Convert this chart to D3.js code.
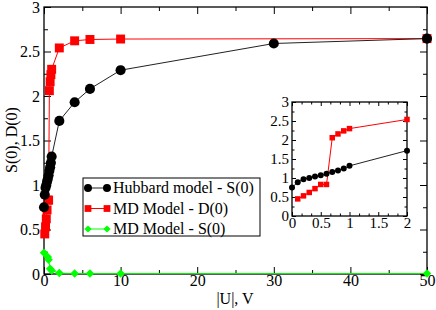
<!doctype html>
<html>
<head>
<script src="https://d3js.org/d3.v7.min.js"></script>
<style>
  body { margin: 0; background: #fff; }
  .domain { display: none; }
</style>
</head>
<body>
<svg id="chart" width="436" height="310"></svg>
<script>
// Hubbard model - S(0)
const hubU = [0, 0.1, 0.2, 0.3, 0.4, 0.5, 0.6, 0.7, 0.8, 0.9, 1, 2, 4, 6, 10, 30, 50];
const hubS = [0.75, 0.89, 0.97, 1.0, 1.04, 1.07, 1.11, 1.16, 1.2, 1.25, 1.32, 1.72, 1.93, 2.08, 2.29, 2.59, 2.645];
// MD Model - D(0)
const mdDU = [0.1, 0.2, 0.3, 0.4, 0.5, 0.6, 0.7, 0.8, 0.9, 1, 2, 4, 6, 10, 50];
const mdD  = [0.45, 0.53, 0.62, 0.72, 0.83, 0.83, 2.06, 2.16, 2.24, 2.3, 2.54, 2.62, 2.635, 2.64, 2.645];
// MD Model - S(0)
const mdSU = [0, 0.5, 0.6, 0.8, 1, 2, 4, 6, 10, 50];
const mdS  = [0.24, 0.19, 0.16, 0.06, 0.04, 0.01, 0.005, 0.005, 0.005, 0.005];

const legendLabels = ["Hubbard model - S(0)", "MD Model - D(0)", "MD Model - S(0)"];
const mainXTicks = [0, 10, 20, 30, 40, 50];
const mainYTicks = [0, 0.5, 1, 1.5, 2, 2.5, 3];
const insetXTicks = [0, 0.5, 1, 1.5, 2];
const insetYTicks = [0, 0.5, 1, 1.5, 2, 2.5, 3];

const serif = '"Liberation Serif", "Times New Roman", Times, serif';
const svg = d3.select("#chart");

function zip(xs, ys) { return xs.map((u, i) => ({u: u, v: ys[i]})); }
const hub = zip(hubU, hubS), mdd = zip(mdDU, mdD), mds = zip(mdSU, mdS);

function minorTicks(lo, hi, step, majors) {
  var out = [];
  for (var t = lo; t <= hi + 1e-9; t += step) {
    if (!majors.some(m => Math.abs(m - t) < 1e-6)) out.push(t);
  }
  return out;
}

// box with inward ticks on all four sides
function panel(x, y, xt, yt, xminor, yminor, big, small, fs, pad) {
  var g = svg.append("g");
  var x0 = x.range()[0], x1 = x.range()[1], y0 = y.range()[0], y1 = y.range()[1];
  g.append("rect").attr("x", x0).attr("y", y1).attr("width", x1 - x0).attr("height", y0 - y1)
    .attr("fill", "#fff").attr("stroke", "#000").attr("stroke-width", 1.3);

  var fmt = d => String(d);
  g.append("g").attr("transform", `translate(0,${y0})`)
    .call(d3.axisBottom(x).tickValues(xt).tickSize(-big).tickPadding(pad[0]).tickFormat(fmt));
  g.append("g").attr("transform", `translate(0,${y0})`)
    .call(d3.axisBottom(x).tickValues(xminor).tickSize(-small).tickFormat(""));
  g.append("g").attr("transform", `translate(0,${y1})`)
    .call(d3.axisTop(x).tickValues(xt).tickSize(-big).tickFormat(""));
  g.append("g").attr("transform", `translate(0,${y1})`)
    .call(d3.axisTop(x).tickValues(xminor).tickSize(-small).tickFormat(""));
  g.append("g").attr("transform", `translate(${x0},0)`)
    .call(d3.axisLeft(y).tickValues(yt).tickSize(-big).tickPadding(pad[1]).tickFormat(fmt));
  g.append("g").attr("transform", `translate(${x0},0)`)
    .call(d3.axisLeft(y).tickValues(yminor).tickSize(-small).tickFormat(""));
  g.append("g").attr("transform", `translate(${x1},0)`)
    .call(d3.axisRight(y).tickValues(yt).tickSize(-big).tickFormat(""));
  g.append("g").attr("transform", `translate(${x1},0)`)
    .call(d3.axisRight(y).tickValues(yminor).tickSize(-small).tickFormat(""));
  g.selectAll("g").attr("font-family", serif).attr("font-size", fs);
  g.selectAll(".tick line").attr("stroke", "#000");
  g.selectAll(".tick text").attr("fill", "#000");
  return g;
}

function series(g, data, x, y, color, shape, size, lineColor) {
  g.append("path").datum(data)
    .attr("fill", "none").attr("stroke", lineColor).attr("stroke-width", 1)
    .attr("d", d3.line().x(d => x(d.u)).y(d => y(d.v)));
  var rot = shape === "diamond" ? 45 : 0;
  var sym = shape === "circle" ? d3.symbolCircle : d3.symbolSquare;
  g.selectAll(null).data(data).enter().append("path")
    .attr("d", d3.symbol().type(sym).size(size))
    .attr("transform", d => `translate(${x(d.u)},${y(d.v)}) rotate(${rot})`)
    .attr("fill", color);
}

// main plot
const x = d3.scaleLinear().domain([0, 50]).range([44, 427]);
const y = d3.scaleLinear().domain([0, 3]).range([274, 7]);
panel(x, y, mainXTicks, mainYTicks,
  minorTicks(0, 50, 5, mainXTicks), minorTicks(0, 3, 0.25, mainYTicks), 7, 4, 16, [1, 4]);

const plot = svg.append("g");
series(plot, mds, x, y, "#00ff00", "diamond", 36, "#00ff00");
series(plot, mdd, x, y, "#ff0000", "square", 80, "#ff0000");
series(plot, hub, x, y, "#000", "circle", 80, "#222");

svg.append("text").attr("transform", "translate(17,140) rotate(-90)")
  .attr("text-anchor", "middle").attr("font-family", serif).attr("font-size", 16).text("S(0), D(0)");
svg.append("text").attr("x", 235).attr("y", 304)
  .attr("text-anchor", "middle").attr("font-family", serif).attr("font-size", 16).text("|U|, V");

// inset
const xi = d3.scaleLinear().domain([0, 2]).range([292, 407]);
const yi = d3.scaleLinear().domain([0, 3]).range([216, 102]);
panel(xi, yi, insetXTicks, insetYTicks,
  minorTicks(0, 2, 1 / 6, insetXTicks), minorTicks(0, 3, 0.25, insetYTicks), 4, 2.5, 15, [1, 3]);
const ins = svg.append("g");
series(ins, mdd.filter(d => d.u <= 2), xi, yi, "#ff0000", "square", 30, "#ff0000");
series(ins, hub.filter(d => d.u <= 2), xi, yi, "#000", "circle", 28, "#222");

// legend
const leg = svg.append("g");
leg.append("rect").attr("x", 83).attr("y", 178).attr("width", 177).attr("height", 58)
  .attr("fill", "#fff").attr("stroke", "#000").attr("stroke-width", 1);
const legColors = ["#000", "#ff0000", "#00ff00"];
const legShapes = ["circle", "square", "diamond"];
const legSizes = [50, 46, 26];
legendLabels.forEach(function(lbl, i) {
  var cy = 188 + i * 20.5;
  var pts = [{u: 88, v: cy}, {u: 107, v: cy}];
  series(leg, pts, d => d, d => d, legColors[i], legShapes[i], legSizes[i], legColors[i] === "#000" ? "#222" : legColors[i]);
  leg.append("text").attr("x", 113).attr("y", cy).attr("dy", "0.33em")
    .attr("font-family", serif).attr("font-size", 16).text(lbl);
});
</script>
</body>
</html>
